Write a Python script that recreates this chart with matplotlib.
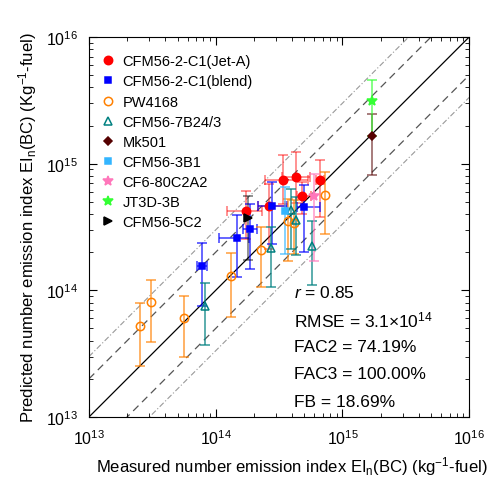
import numpy as np
import matplotlib
matplotlib.use('Agg')
import matplotlib.pyplot as plt

plt.rcParams['font.family'] = ['Liberation Sans', 'DejaVu Sans']
plt.rcParams['mathtext.fontset'] = 'custom'
plt.rcParams['mathtext.rm'] = 'Liberation Sans'
plt.rcParams['mathtext.it'] = 'Liberation Sans:italic'

# --- data (measured x, predicted y, error bounds) ---
jeta_x = [1.73e14, 2.65e14, 3.40e14, 4.28e14, 4.83e14, 6.63e14]
jeta_y = [4.21e14, 4.66e14, 7.43e14, 7.80e14, 5.56e14, 7.39e14]
jeta_ylo = [2.54e14, 2.12e14, 4.80e14, 4.90e14, 4.00e14, 3.77e14]
jeta_yhi = [6.12e14, 6.90e14, 1.18e15, 1.24e15, 7.13e14, 1.07e15]
jeta_xlo = [1.22e14, 2.16e14, 2.45e14, 3.34e14, 4.40e14, 6.20e14]
jeta_xhi = [2.32e14, 3.52e14, 5.39e14, 5.56e14, 5.60e14, 7.10e14]

blend_x = [7.76e13, 1.47e14, 1.88e14, 2.77e14, 5.01e14]
blend_y = [1.56e14, 2.59e14, 3.05e14, 4.66e14, 4.55e14]
blend_ylo = [7.48e13, 1.27e14, 1.47e14, 2.32e14, 2.00e14]
blend_yhi = [2.35e14, 3.93e14, 4.80e14, 7.13e14, 6.79e14]
blend_xlo = [7.16e13, 1.07e14, 1.65e14, 2.17e14, 4.36e14]
blend_xhi = [8.59e13, 1.84e14, 2.11e14, 3.64e14, 6.66e14]

pw_x = [2.53e13, 3.09e13, 5.59e13, 1.33e14, 2.27e14, 3.72e14, 4.15e14, 7.26e14]
pw_y = [5.26e13, 8.13e13, 6.05e13, 1.29e14, 2.09e14, 3.55e14, 3.37e14, 5.66e14]
pw_ylo = [2.54e13, 3.89e13, 2.96e13, 6.12e13, 1.06e14, 1.71e14, 1.94e14, 2.78e14]
pw_yhi = [7.94e13, 1.21e14, 9.07e13, 1.96e14, 3.15e14, 5.26e14, 5.20e14, 8.55e14]

cfm7_x = [8.28e13, 2.73e14, 3.90e14, 4.31e14, 5.79e14]
cfm7_y = [7.56e13, 2.16e14, 4.27e14, 3.59e14, 2.25e14]
cfm7_ylo = [3.68e13, 1.06e14, 2.13e14, 1.90e14, 1.11e14]
cfm7_yhi = [1.14e14, 3.18e14, 6.31e14, 5.50e14, 3.51e14]

mk_x = [1.71e15]
mk_y = [1.66e15]
mk_ylo = [8.18e14]
mk_yhi = [2.47e15]

cfm3_x = [3.53e14]
cfm3_y = [4.23e14]
cfm3_ylo = [1.94e14]
cfm3_yhi = [6.51e14]

cf6_x = [6.01e14]
cf6_y = [5.53e14]
cf6_ylo = [1.70e14]
cf6_yhi = [8.28e14]

jt_x = [1.71e15]
jt_y = [3.14e15]
jt_ylo = [1.66e15]
jt_yhi = [4.60e15]

cfm5_x = [1.81e14]
cfm5_y = [3.71e14]
cfm5_ylo = [1.74e14]
cfm5_yhi = [5.52e14]

stats = [r'$\mathit{r}$ = 0.85', r'RMSE = 3.1$\times$10$^{14}$',
         'FAC2 = 74.19%', 'FAC3 = 100.00%', 'FB = 18.69%']

fig = plt.figure(figsize=(4.97, 4.81), dpi=100)
ax = fig.add_axes([0.179, 0.131, 0.765, 0.790])

# reference lines
ref = np.array([1e13, 1e16])
ax.plot(ref, ref, 'k-', lw=0.9, zorder=1)
for f in [2, 0.5]:
    ax.plot(ref, ref * f, color='#555555', ls=(0, (6, 4)), lw=0.9, zorder=1)
for f in [3, 1 / 3]:
    ax.plot(ref, ref * f, color='#999999', ls=(0, (5, 2, 1, 2)), lw=0.8, zorder=1)


def series(x, y, ylo, yhi, color, marker, label, ms=6, mfc=None, xlo=None, xhi=None, ealpha=0.6):
    x = np.array(x); y = np.array(y)
    yerr = [y - np.array(ylo), np.array(yhi) - y]
    xerr = None
    if xlo is not None:
        xerr = [x - np.array(xlo), np.array(xhi) - x]
    ax.errorbar(x, y, yerr=yerr, xerr=xerr, fmt='none', ecolor=color, alpha=ealpha,
                elinewidth=1.2, capsize=3.5, capthick=1.2, zorder=2)
    ax.plot(x, y, ls='none', marker=marker, color=color, ms=ms,
            mfc=mfc if mfc else color, mew=1.1, label=label, zorder=3)


series(jeta_x, jeta_y, jeta_ylo, jeta_yhi, '#ff0000', 'o', 'CFM56-2-C1(Jet-A)', ms=6,
       xlo=jeta_xlo, xhi=jeta_xhi, ealpha=0.5)
series(blend_x, blend_y, blend_ylo, blend_yhi, '#0000ff', 's', 'CFM56-2-C1(blend)', ms=5,
       xlo=blend_xlo, xhi=blend_xhi, ealpha=0.7)
series(pw_x, pw_y, pw_ylo, pw_yhi, '#ff8000', 'o', 'PW4168', ms=6, mfc='none', ealpha=0.7)
series(cfm7_x, cfm7_y, cfm7_ylo, cfm7_yhi, '#008080', '^', 'CFM56-7B24/3', ms=6, mfc='none', ealpha=0.75)
series(mk_x, mk_y, mk_ylo, mk_yhi, '#550000', 'D', 'Mk501', ms=4.5, ealpha=0.6)
series(cfm3_x, cfm3_y, cfm3_ylo, cfm3_yhi, '#33b5ff', 's', 'CFM56-3B1', ms=5, ealpha=0.7)
series(cf6_x, cf6_y, cf6_ylo, cf6_yhi, '#ff77bb', '*', 'CF6-80C2A2', ms=7, ealpha=0.7)
series(jt_x, jt_y, jt_ylo, jt_yhi, '#33ff33', '*', 'JT3D-3B', ms=7, ealpha=0.7)
series(cfm5_x, cfm5_y, cfm5_ylo, cfm5_yhi, '#000000', '>', 'CFM56-5C2', ms=5.5, ealpha=0.5)

ax.set_xscale('log')
ax.set_yscale('log')
ax.set_xlim(1e13, 1e16)
ax.set_ylim(1e13, 1e16)
ax.tick_params(which='both', direction='in', top=True, right=True, labelsize=11.5)
ax.tick_params(which='major', length=6, pad=8)
ax.tick_params(which='minor', length=3)
ax.set_xlabel(r'Measured number emission index EI$_\mathrm{n}$(BC) (kg$^{-1}$-fuel)', fontsize=12)
ax.set_ylabel(r'Predicted number emission index EI$_\mathrm{n}$(BC) (Kg$^{-1}$-fuel)', fontsize=12, labelpad=5)
ax.xaxis.set_label_coords(0.534, -0.127)
ax.xaxis.label.set_va('center')

ax.legend(loc='upper left', frameon=False, fontsize=10.5, handlelength=1.0,
          handletextpad=0.5, labelspacing=0.42, borderaxespad=0.4, bbox_to_anchor=(0.0, 0.985))

for i, s in enumerate(stats):
    ax.text(0.54, 0.33 - i * 0.072, s, transform=ax.transAxes, fontsize=12.5, va='center')

plt.savefig('out.png', dpi=100)
plt.close()
